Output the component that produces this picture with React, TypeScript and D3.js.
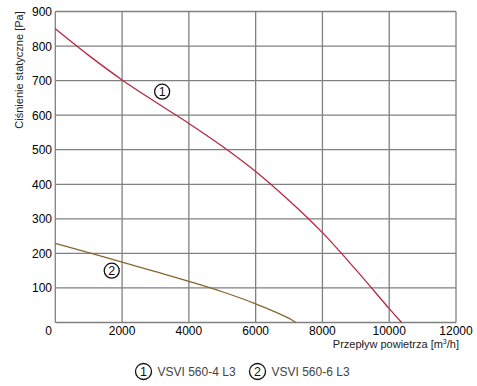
import React, { useRef, useEffect } from 'react';
import * as d3 from 'd3';

// Krzywe wentylatorów
const flow1 = [0, 1000, 2000, 3000, 4000, 5000, 6000, 7000, 8000, 9000, 10000, 10370];
const pressure1 = [850, 773, 702, 638, 576, 510, 437, 353, 260, 153, 40, 0];
const flow2 = [0, 1000, 2000, 3000, 4000, 5000, 6000, 7000, 7205];
const pressure2 = [229, 202, 175, 147, 119, 89, 54, 12, 0];

const xTicks = [2000, 4000, 6000, 8000, 10000, 12000];
const yTicks = [100, 200, 300, 400, 500, 600, 700, 800, 900];
const seriesNames = ['VSVI 560-4 L3', 'VSVI 560-6 L3'];
const seriesColors = ['#b82840', '#85662e'];

const W = 477;
const H = 386;

const App = () => {
  const ref = useRef<SVGSVGElement>(null);

  useEffect(() => {
    const svg = d3.select(ref.current);
    svg.selectAll('*').remove();

    const x = d3.scaleLinear().domain([0, 12000]).range([55.3, 456]);
    const y = d3.scaleLinear().domain([0, 900]).range([322.5, 11.5]);
    const font = 'Liberation Sans, Arial, sans-serif';

    // siatka
    const grid = svg.append('g').attr('stroke', '#808080').attr('stroke-width', 1.3);
    xTicks.forEach(t => {
      grid.append('line').attr('x1', x(t)).attr('x2', x(t)).attr('y1', y(0)).attr('y2', y(900));
    });
    yTicks.forEach(t => {
      grid.append('line').attr('x1', x(0)).attr('x2', x(12000)).attr('y1', y(t)).attr('y2', y(t));
    });
    grid.append('line').attr('x1', x(0)).attr('x2', x(0)).attr('y1', y(0)).attr('y2', y(900));
    grid.append('line').attr('x1', x(0)).attr('x2', x(12000)).attr('y1', y(0)).attr('y2', y(0));

    // etykiety osi
    const labels = svg.append('g').attr('font-family', font).attr('font-size', 12).attr('fill', '#000');
    yTicks.forEach(t => {
      labels.append('text').attr('x', 52).attr('y', y(t) + 4.5).attr('text-anchor', 'end').text(t);
    });
    labels.append('text').attr('x', 52).attr('y', 335).attr('text-anchor', 'end').text('0');
    xTicks.forEach(t => {
      labels.append('text').attr('x', x(t)).attr('y', 335).attr('text-anchor', 'middle').text(t);
    });

    svg.append('text')
      .attr('transform', 'translate(23,70) rotate(-90)')
      .attr('text-anchor', 'middle')
      .attr('font-family', font).attr('font-size', 11).attr('fill', '#222')
      .text('Ciśnienie statyczne [Pa]');

    const xt = svg.append('text')
      .attr('x', 459).attr('y', 348)
      .attr('text-anchor', 'end')
      .attr('font-family', font).attr('font-size', 11).attr('fill', '#222');
    xt.append('tspan').text('Przepływ powietrza [m');
    xt.append('tspan').attr('font-size', 7).attr('dy', -4).text('3');
    xt.append('tspan').attr('dy', 4).text('/h]');

    // krzywe
    const line = d3.line<[number, number]>()
      .x(d => x(d[0]))
      .y(d => y(d[1]))
      .curve(d3.curveCatmullRom.alpha(0.5));

    const data1 = flow1.map((f, i) => [f, pressure1[i]] as [number, number]);
    const data2 = flow2.map((f, i) => [f, pressure2[i]] as [number, number]);

    [data1, data2].forEach((d, i) => {
      svg.append('path')
        .datum(d)
        .attr('d', line)
        .attr('fill', 'none')
        .attr('stroke', seriesColors[i])
        .attr('stroke-width', 1.3);
    });

    const marker = (cx: number, cy: number, label: string, r: number) => {
      svg.append('circle').attr('cx', cx).attr('cy', cy).attr('r', r)
        .attr('fill', 'none').attr('stroke', '#111').attr('stroke-width', 1.3);
      svg.append('text').attr('x', cx).attr('y', cy + 4.5).attr('text-anchor', 'middle')
        .attr('font-family', font).attr('font-size', 12.5).attr('fill', '#111').text(label);
    };

    marker(x(3200), y(668), '1', 7.5);
    marker(x(1690), y(150), '2', 7.5);

    // legenda
    const legendX = [143.5, 257.5];
    seriesNames.forEach((name, i) => {
      marker(legendX[i], 371.5, String(i + 1), 8);
      svg.append('text')
        .attr('x', legendX[i] + 14).attr('y', 376)
        .attr('font-family', font).attr('font-size', 12).attr('fill', '#444')
        .text(name);
    });
  }, []);

  return <svg ref={ref} width={W} height={H} style={{ position: 'absolute', left: 0, top: 0, background: '#fff' }}></svg>;
};

export default App;
